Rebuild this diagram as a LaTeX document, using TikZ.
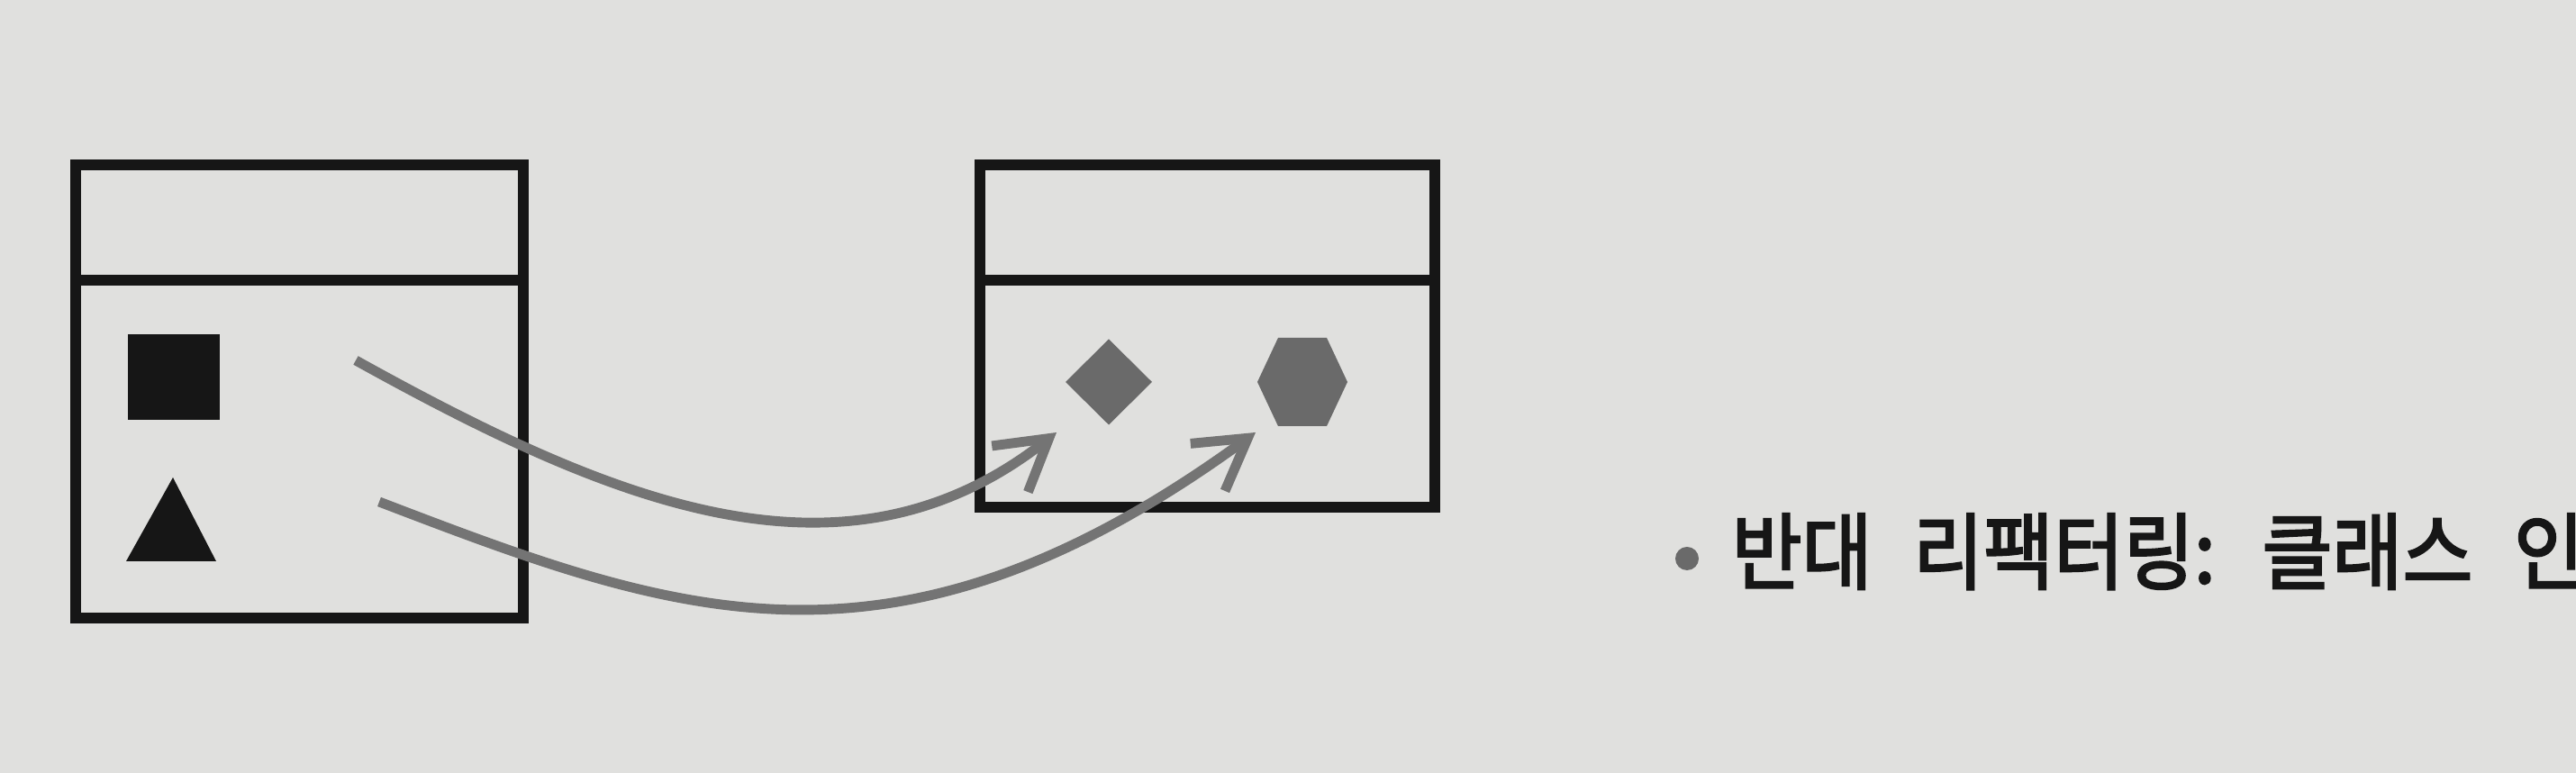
\documentclass[tikz,border=0pt]{standalone}
\usepackage{fontspec}
\usepackage{xcolor}
\usepackage{tikz}
\usetikzlibrary{arrows.meta}
\newfontfamily\krfont{Noto Sans CJK KR}[FakeStretch=0.91,WordSpace=2.4,BoldFont={Noto Sans CJK KR},BoldFeatures={FakeBold=2.5}]
\definecolor{PGPaper}{HTML}{E0E0DE}
\definecolor{PGInk}{HTML}{161616}
\definecolor{PGShade}{HTML}{6A6A6A}
\definecolor{PGArrow}{HTML}{747474}
\tikzset{
  classbox/.style={PGInk,line width=3.2pt},
  flow/.style={PGArrow,line width=3.1pt,-{Straight Barb[length=5.5mm,width=6.5mm]}}
}

\begin{document}
\begin{tikzpicture}[x=1cm,y=1cm]
\path[use as bounding box] (0,0) rectangle (28.60,8.58);
\fill[PGPaper] (0,0) rectangle (28.60,8.58);
% source class
\draw[classbox] (0.84,1.72) rectangle (5.81,6.75);
\draw[classbox] (0.84,5.47) -- (5.81,5.47);
\fill[PGInk] (1.42,3.92) rectangle (2.44,4.87);
\fill[PGInk] (1.92,3.28) -- (2.40,2.35) -- (1.40,2.35) -- cycle;
% target class
\draw[classbox] (10.88,2.95) rectangle (15.93,6.75);
\draw[classbox] (10.88,5.47) -- (15.93,5.47);
\fill[PGShade] (12.31,4.815) -- (12.79,4.34) -- (12.31,3.865) -- (11.83,4.34) -- cycle;
\fill[PGShade] (13.96,4.34) -- (14.19,4.83) -- (14.73,4.83) -- (14.96,4.34) -- (14.73,3.85) -- (14.19,3.85) -- cycle;
% moved members
\coordinate (sq) at (3.95,4.58);
\coordinate (tri) at (4.21,3.01);
\coordinate (dia) at (11.73,3.78);
\coordinate (hex) at (13.94,3.78);
\draw[flow] (sq) .. controls (6.80,3.00) and (9.37,1.93) .. (dia);
\draw[flow] (tri) .. controls (7.48,1.76) and (9.90,0.84) .. (hex);
% caption line
\node[circle,fill=PGShade,minimum size=0.26cm,inner sep=0pt] (dot) at (18.73,2.38) {};
\node[anchor=base west,inner sep=0pt,text=PGInk,font=\krfont\bfseries\fontsize{26.5pt}{30pt}\selectfont] (refactor) at (19.22,2.11) {반대 리팩터링: 클래스 인};
\end{tikzpicture}
\end{document}
